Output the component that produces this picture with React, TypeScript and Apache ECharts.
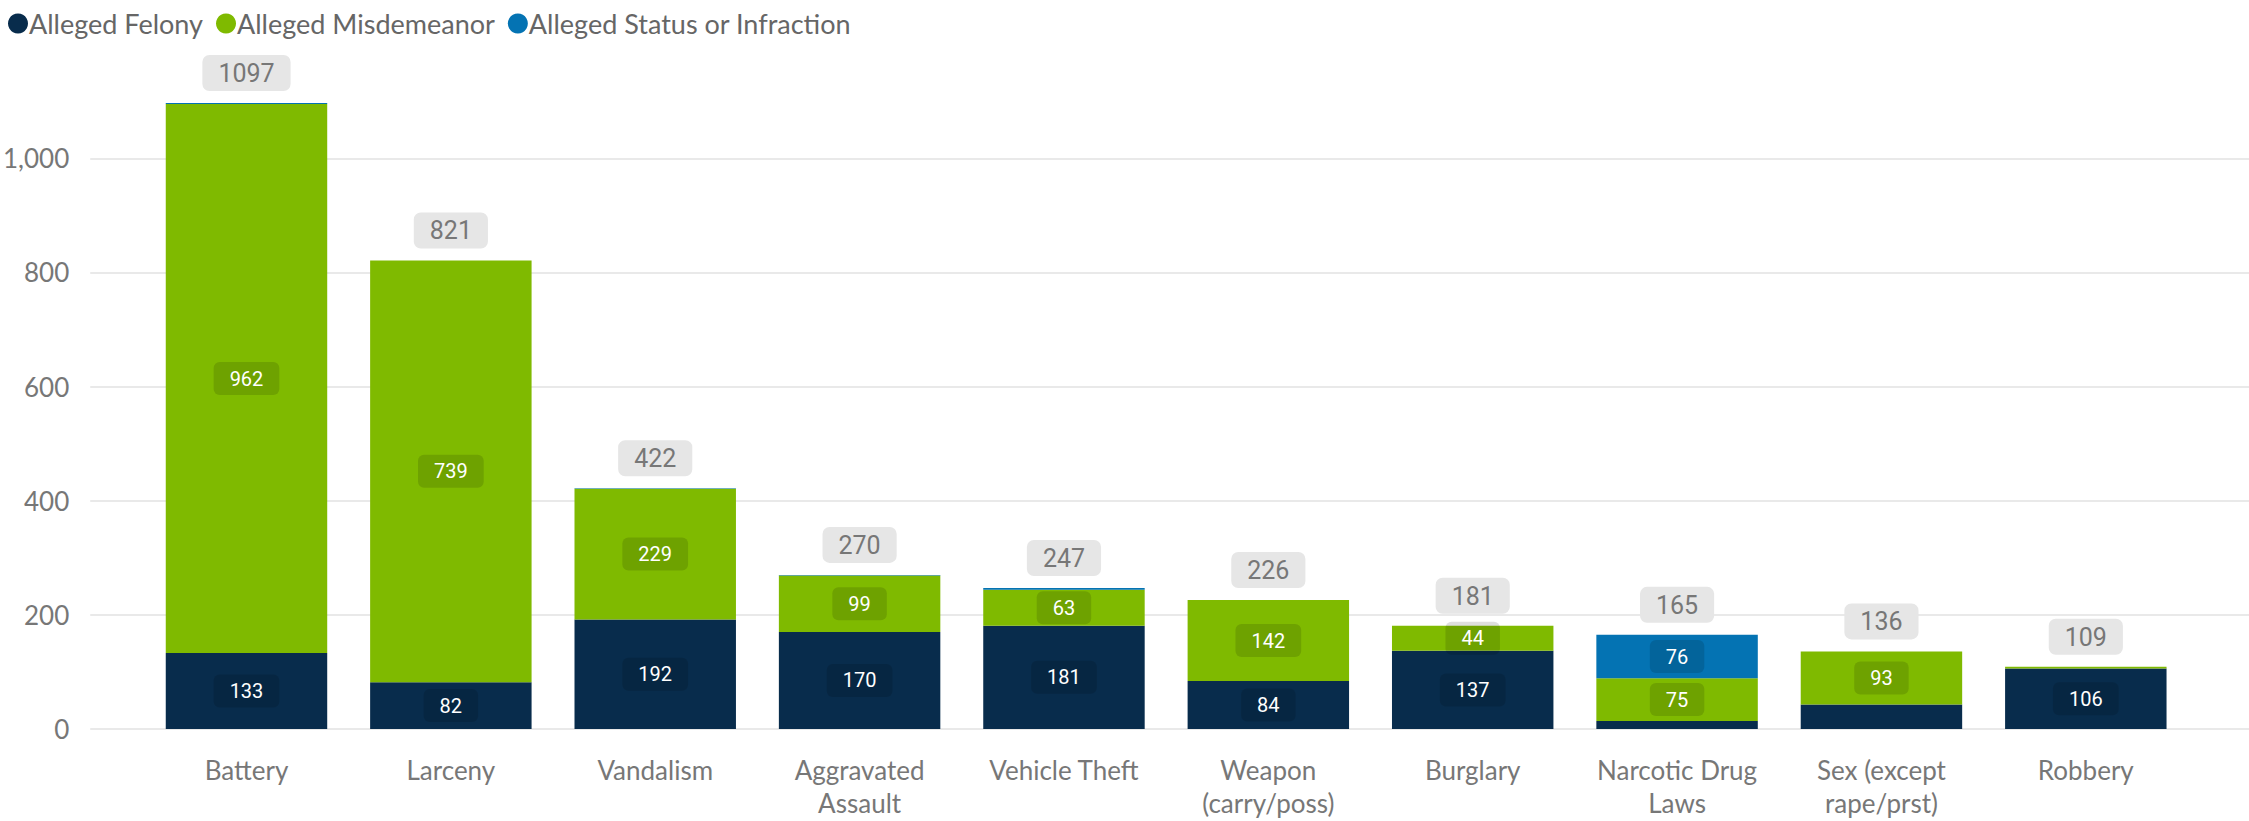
import React, { useEffect, useRef } from "react";
import * as echarts from "echarts";

const categories = [
  "Battery",
  "Larceny",
  "Vandalism",
  "Aggravated\nAssault",
  "Vehicle Theft",
  "Weapon\n(carry/poss)",
  "Burglary",
  "Narcotic Drug\nLaws",
  "Sex (except\nrape/prst)",
  "Robbery",
];
const felony = [133, 82, 192, 170, 181, 84, 137, 14, 43, 106];
const misdemeanor = [962, 739, 229, 99, 63, 142, 44, 75, 93, 3];
const statusInfraction = [2, 0, 1, 1, 3, 0, 0, 76, 0, 0];
const totals = [1097, 821, 422, 270, 247, 226, 181, 165, 136, 109];
const yTicks = { min: 0, max: 1200, interval: 200 };
const MIN_LABEL = 44;

const COLORS = { felony: "#082C4C", misd: "#7FBA00", status: "#0473B3" };
const LABEL_FONT = "Roboto, 'DejaVu Sans', sans-serif";
const TEXT_FONT = "'Segoe UI', Lato, 'Liberation Sans', sans-serif";

function segData(vals: number[]) {
  return vals.map((v) => ({ value: v, label: { show: v >= MIN_LABEL } }));
}

function innerLabel() {
  return {
    show: true,
    position: "inside",
    color: "#ffffff",
    fontFamily: LABEL_FONT,
    fontSize: 20,
    lineHeight: 20,
    backgroundColor: "rgba(0,0,0,0.13)",
    borderRadius: 6,
    padding: [7, 16, 6, 16],
  };
}

export default function App() {
  const ref = useRef<HTMLDivElement>(null);
  useEffect(() => {
    if (!ref.current) return;
    const chart = echarts.init(ref.current, null, { renderer: "svg" });
    const top = 44.2;
    const bottom = 92;
    chart.setOption({
      animation: false,
      backgroundColor: "#ffffff",
      legend: {
        data: ["Alleged Felony", "Alleged Misdemeanor", "Alleged Status or Infraction"],
        left: 3,
        top: 5,
        icon: "circle",
        itemWidth: 20,
        itemHeight: 20,
        itemGap: 13,
        textStyle: { fontFamily: TEXT_FONT, fontSize: 27, color: "#666666", padding: [0, 0, 0, -4] },
      },
      grid: [
        { left: 84, right: 0, top, bottom, containLabel: false },
        { left: 144.3, right: 61, top, bottom, containLabel: false },
      ],
      xAxis: [
        { type: "value", gridIndex: 0, min: 0, max: 1, show: false },
        {
          type: "category",
          gridIndex: 1,
          data: categories,
          axisLine: { show: false },
          axisTick: { show: false },
          axisLabel: {
            interval: 0,
            margin: 24,
            fontFamily: TEXT_FONT,
            fontSize: 26,
            lineHeight: 33,
            color: "#777777",
          },
        },
      ],
      yAxis: [
        {
          type: "value",
          gridIndex: 0,
          min: yTicks.min,
          max: yTicks.max,
          interval: yTicks.interval,
          axisLine: { show: false },
          axisTick: { show: false },
          axisLabel: {
            margin: 21,
            showMaxLabel: false,
            fontFamily: TEXT_FONT,
            fontSize: 26,
            color: "#777777",
            formatter: (v: number) => v.toLocaleString("en-US"),
          },
          splitLine: { show: true, showMaxLine: false, lineStyle: { color: "#e9e9e9", width: 2 } },
        },
        {
          type: "value",
          gridIndex: 1,
          min: yTicks.min,
          max: yTicks.max,
          interval: yTicks.interval,
          show: false,
          splitLine: { show: false },
        },
      ],
      series: [
        {
          name: "Total",
          type: "bar",
          xAxisIndex: 1,
          yAxisIndex: 1,
          data: totals,
          silent: true,
          z: 1,
          itemStyle: { color: "rgba(0,0,0,0)" },
          label: {
            show: true,
            position: "top",
            distance: 12,
            color: "#777777",
            fontFamily: LABEL_FONT,
            fontSize: 25,
            lineHeight: 25,
            backgroundColor: "#e6e6e6",
            borderRadius: 7,
            padding: [6, 16, 5, 16],
          },
        },
        {
          name: "Alleged Felony",
          type: "bar",
          stack: "a",
          xAxisIndex: 1,
          yAxisIndex: 1,
          barCategoryGap: "21%",
          data: segData(felony),
          itemStyle: { color: COLORS.felony },
          label: innerLabel(),
          z: 2,
        },
        {
          name: "Alleged Misdemeanor",
          type: "bar",
          stack: "a",
          xAxisIndex: 1,
          yAxisIndex: 1,
          data: segData(misdemeanor),
          itemStyle: { color: COLORS.misd },
          label: innerLabel(),
          z: 2,
        },
        {
          name: "Alleged Status or Infraction",
          type: "bar",
          stack: "a",
          xAxisIndex: 1,
          yAxisIndex: 1,
          barGap: "-100%",
          barCategoryGap: "21%",
          data: segData(statusInfraction),
          itemStyle: { color: COLORS.status },
          label: innerLabel(),
          z: 2,
        },
      ],
    });
    return () => chart.dispose();
  }, []);
  return (
    <div
      ref={ref}
      style={{ position: "fixed", left: 0, top: 0, width: 2249, height: 821, background: "#fff" }}
    />
  );
}
